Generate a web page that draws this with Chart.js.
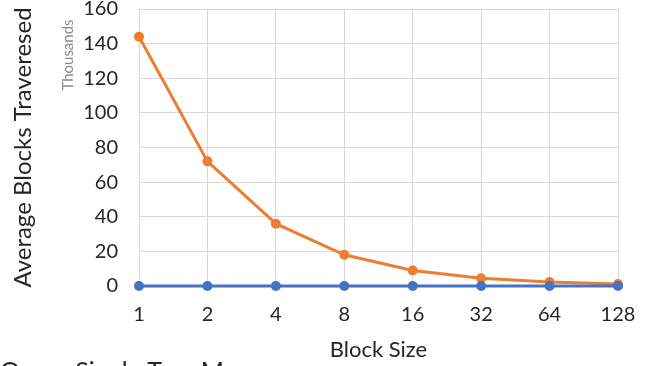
<!DOCTYPE html>
<html>
<head>
<meta charset="utf-8">
<script src="https://cdn.jsdelivr.net/npm/chart.js@4/dist/chart.umd.min.js"></script>
<style>
  html, body { margin: 0; padding: 0; background: #ffffff; overflow: hidden; }
  #wrap { width: 647px; height: 366px; position: relative; }
</style>
</head>
<body>
<div id="wrap"><canvas id="chart" width="647" height="366"></canvas></div>
<script>
// Block sizes on the category axis
const blockSizes = ['1', '2', '4', '8', '16', '32', '64', '128'];
// Average blocks traversed, in thousands
const singleTreeMemory = [0.02, 0.02, 0.02, 0.02, 0.02, 0.02, 0.02, 0.02];
const singleTreeDisk = [144, 72, 36, 18, 9, 4.5, 2.3, 1.1];
// Value axis range and step (thousands)
const yMin = 0;
const yMax = 160;
const yStep = 20;
const unitLabel = 'Thousands';
const yTitle = 'Average Blocks Traveresed';
const xTitle = 'Block Size';

const FONT = 'Lato, "Open Sans", sans-serif';
const BLUE = '#4472C4';
const ORANGE = '#ED7D31';
const GRID = '#d9d9d9';
const TEXT = '#262626';

// Display-unit caption beside the value axis and the first legend entry
const extraText = {
  id: 'extraText',
  afterDraw(chart) {
    const { ctx, chartArea } = chart;
    ctx.save();
    ctx.fillStyle = '#8c8c8c';
    ctx.font = '15px ' + FONT;
    ctx.textAlign = 'center';
    ctx.textBaseline = 'middle';
    ctx.translate(chartArea.left - 71, chartArea.top + 46);
    ctx.rotate(-Math.PI / 2);
    ctx.fillText(unitLabel, 0, 0);
    ctx.restore();

    ctx.save();
    ctx.fillStyle = TEXT;
    ctx.font = '25px ' + FONT;
    ctx.textAlign = 'left';
    ctx.textBaseline = 'alphabetic';
    ctx.fillText(chart.data.datasets[0].label, 0, chartArea.bottom + 94);
    ctx.restore();
  }
};

new Chart(document.getElementById('chart'), {
  type: 'line',
  data: {
    labels: blockSizes,
    datasets: [
      {
        label: 'Query Single Tree Memory',
        data: singleTreeMemory,
        borderColor: BLUE,
        backgroundColor: BLUE,
        borderWidth: 3,
        pointRadius: 5,
        pointHoverRadius: 5,
        pointBorderWidth: 0,
        tension: 0,
        clip: false
      },
      {
        label: 'Query Single Tree Disk',
        data: singleTreeDisk,
        borderColor: ORANGE,
        backgroundColor: ORANGE,
        borderWidth: 3,
        pointRadius: 5,
        pointHoverRadius: 5,
        pointBorderWidth: 0,
        tension: 0,
        clip: false
      }
    ]
  },
  options: {
    responsive: false,
    animation: false,
    layout: { padding: { top: 9, right: 29, bottom: 0, left: 0 } },
    plugins: {
      legend: { display: false },
      tooltip: { enabled: false }
    },
    scales: {
      x: {
        offset: false,
        grid: { color: GRID, lineWidth: 1, drawTicks: false },
        border: { color: GRID, width: 1 },
        ticks: { color: TEXT, font: { family: FONT, size: 20 }, padding: 17, maxRotation: 0, autoSkip: false },
        title: { display: true, text: xTitle, color: TEXT, font: { family: FONT, size: 22 }, padding: { top: 0, bottom: 3 } },
        afterFit(scale) { scale.height = 80; scale.paddingLeft = 0; scale.paddingRight = 0; }
      },
      y: {
        min: yMin,
        max: yMax,
        grid: { color: GRID, lineWidth: 1, drawTicks: false },
        border: { color: GRID, width: 1 },
        ticks: { stepSize: yStep, color: TEXT, font: { family: FONT, size: 20 }, padding: 21 },
        title: { display: true, text: yTitle, color: TEXT, font: { family: FONT, size: 24 }, padding: { top: 9, bottom: 0 } },
        afterFit(scale) { scale.width = 139; scale.paddingTop = 0; scale.paddingBottom = 0; }
      }
    }
  },
  plugins: [extraText]
});
</script>
</body>
</html>
